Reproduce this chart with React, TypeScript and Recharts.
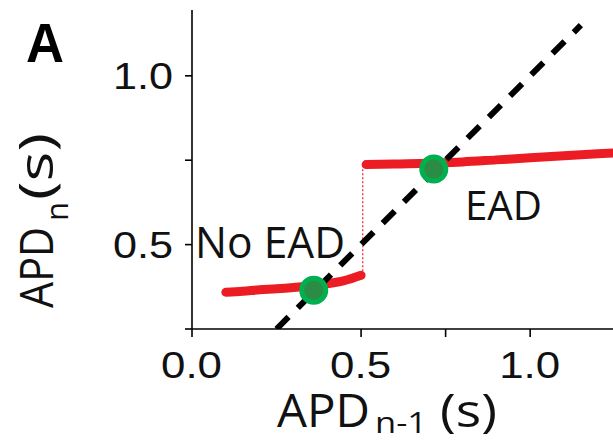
import React from "react";
import { ComposedChart, Line, Scatter, XAxis, YAxis } from "recharts";

// APD_{n-1} (s) values of the no-EAD branch and its APD_n (s)
const lowerX = [0.1, 0.15, 0.2, 0.25, 0.3, 0.35, 0.4, 0.45, 0.5];
const lowerY = [0.359, 0.362, 0.366, 0.369, 0.373, 0.378, 0.384, 0.393, 0.409];
// EAD branch
const upperX = [0.515, 0.6, 0.7, 0.8, 0.9, 1.0, 1.1, 1.2, 1.25];
const upperY = [0.737, 0.739, 0.741, 0.745, 0.751, 0.757, 0.763, 0.769, 0.772];
// jump between branches
const jumpX = [0.505, 0.505];
const jumpY = [0.409, 0.737];
// identity line APD_n = APD_{n-1}
const identX = [0.25, 1.15];
const identY = [0.25, 1.15];
// fixed points
const fixedX = [0.36, 0.715];
const fixedY = [0.365, 0.724];

const xTickValues = [0, 0.5, 0.75, 1.0];
const xTickLabels = ["0.0", "0.5", "", "1.0"];
const yTickValues = [0.25, 0.5, 0.75, 1.0];
const yTickLabels = ["", "0.5", "", "1.0"];

const zip = (xs: number[], ys: number[]) => xs.map((x, i) => ({ x, y: ys[i] }));
const lower = zip(lowerX, lowerY);
const upper = zip(upperX, upperY);
const jump = zip(jumpX, jumpY);
const ident = zip(identX, identY);
const fixed = zip(fixedX, fixedY);

const RED = "#ec1c24";
const TICK_FONT = "'Liberation Sans', Arial, sans-serif";
const TITLE_FONT = "'Open Sans', 'Noto Sans', sans-serif";

const XTick = (props: any) => {
  const { x, y, payload } = props;
  const i = xTickValues.indexOf(payload.value);
  const label = i >= 0 ? xTickLabels[i] : "";
  if (!label) return <g />;
  return (
    <text
      x={x - 31}
      y={y + 41}
      fontFamily={TICK_FONT}
      fontSize={37}
      fill="#111"
      textLength={61}
      lengthAdjust="spacingAndGlyphs"
    >
      {label}
    </text>
  );
};

const YTick = (props: any) => {
  const { x, y, payload } = props;
  const i = yTickValues.indexOf(payload.value);
  const label = i >= 0 ? yTickLabels[i] : "";
  if (!label) return <g />;
  return (
    <text
      x={x - 60}
      y={y + 13}
      fontFamily={TICK_FONT}
      fontSize={36}
      fill="#111"
      textLength={60}
      lengthAdjust="spacingAndGlyphs"
    >
      {label}
    </text>
  );
};

const FixedDot = (props: any) => {
  const { cx, cy } = props;
  return <circle cx={cx} cy={cy} r={12} fill="#2b8c46" stroke="#00b04f" strokeWidth={5} />;
};

export default function App() {
  return (
    <div style={{ position: "absolute", left: 0, top: 0, width: 613, height: 441, background: "#fff" }}>
      <ComposedChart width={613} height={441} margin={{ top: 10, right: 0, bottom: 0, left: 0 }}>
        <XAxis
          type="number"
          dataKey="x"
          domain={[0, 1.245]}
          allowDataOverflow
          ticks={xTickValues}
          tickSize={8}
          tickMargin={0}
          height={112}
          stroke="#000"
          strokeWidth={1.6}
          tickLine={{ stroke: "#000", strokeWidth: 1.6 }}
          tick={<XTick />}
        />
        <YAxis
          type="number"
          dataKey="y"
          domain={[0.25, 1.195]}
          allowDataOverflow
          ticks={yTickValues}
          tickSize={7}
          tickMargin={12}
          width={192}
          stroke="#000"
          strokeWidth={1.6}
          tickLine={{ stroke: "#000", strokeWidth: 1.6 }}
          tick={<YTick />}
        />
        <Line
          data={lower}
          dataKey="y"
          type="monotone"
          stroke={RED}
          strokeWidth={9}
          strokeLinecap="round"
          dot={false}
          activeDot={false}
          isAnimationActive={false}
        />
        <Line
          data={upper}
          dataKey="y"
          type="monotone"
          stroke={RED}
          strokeWidth={9}
          strokeLinecap="round"
          dot={false}
          activeDot={false}
          isAnimationActive={false}
        />
        <Line
          data={jump}
          dataKey="y"
          type="linear"
          stroke={RED}
          strokeWidth={1.2}
          strokeDasharray="2 2"
          dot={false}
          activeDot={false}
          isAnimationActive={false}
        />
        <Line
          data={ident}
          dataKey="y"
          type="linear"
          stroke="#000"
          strokeWidth={6}
          strokeDasharray="17 13"
          dot={false}
          activeDot={false}
          isAnimationActive={false}
        />
        <Scatter data={fixed} dataKey="y" shape={<FixedDot />} isAnimationActive={false} />
      </ComposedChart>
      <svg
        width={613}
        height={441}
        style={{ position: "absolute", left: 0, top: 0, pointerEvents: "none" }}
      >
        <text x={26} y={62} fontFamily={TICK_FONT} fontWeight="bold" fontSize={56} fill="#000" textLength={38} lengthAdjust="spacingAndGlyphs">
          A
        </text>
        <text x={195} y={258} fontFamily={TITLE_FONT} fontSize={44} fill="#111" textLength={150} lengthAdjust="spacingAndGlyphs">
          No EAD
        </text>
        <text x={465} y={220} fontFamily={TITLE_FONT} fontSize={41} fill="#111" textLength={77} lengthAdjust="spacingAndGlyphs">
          EAD
        </text>
        {/* x-axis title */}
        <text x={277} y={427} fontFamily={TITLE_FONT} fontSize={46} fill="#111" textLength={93} lengthAdjust="spacingAndGlyphs">
          APD
        </text>
        <text x={375} y={433} fontFamily={TITLE_FONT} fontSize={30} fill="#111" textLength={52} lengthAdjust="spacingAndGlyphs">
          n-1
        </text>
        <text x={440} y={427} fontFamily={TITLE_FONT} fontSize={46} fill="#111" textLength={57} lengthAdjust="spacingAndGlyphs">
          (s)
        </text>
        {/* y-axis title */}
        <g transform="translate(53,0) rotate(-90)">
          <text x={-308} y={0} fontFamily={TITLE_FONT} fontSize={45} fill="#111" textLength={81} lengthAdjust="spacingAndGlyphs">
            APD
          </text>
          <text x={-221} y={15} fontFamily={TITLE_FONT} fontSize={31} fill="#111" textLength={19} lengthAdjust="spacingAndGlyphs">
            n
          </text>
          <text x={-200} y={0} fontFamily={TITLE_FONT} fontSize={48} fill="#111" textLength={67} lengthAdjust="spacingAndGlyphs">
            (s)
          </text>
        </g>
      </svg>
    </div>
  );
}
